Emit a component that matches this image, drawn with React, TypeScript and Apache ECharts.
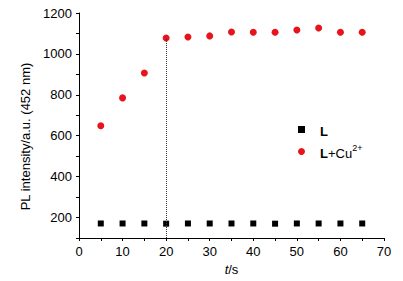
import React, { useEffect, useRef } from "react";
import * as echarts from "echarts";

const times = [5, 10, 15, 20, 25, 30, 35, 40, 45, 50, 55, 60, 65];
const seriesL = [171, 171, 171, 170, 171, 171, 171, 171, 170, 171, 171, 171, 171];
const seriesLCu = [649, 785, 907, 1078, 1083, 1088, 1107, 1106, 1106, 1117, 1127, 1106, 1106];
const legendNames = ["L", "L+Cu2+"];
const yLabels = [200, 400, 600, 800, 1000, 1200];
const yTickValues = [100, 200, 300, 400, 500, 600, 700, 800, 900, 1000, 1100, 1200];
const yRange = { min: 100, max: 1200, interval: 100 };
const xTicks = { min: 0, max: 70, interval: 10 };

export default function App() {
  const ref = useRef<HTMLDivElement>(null);
  useEffect(() => {
    if (!ref.current) return;
    const chart = echarts.init(ref.current, null, { renderer: "svg" });
    const font = "Liberation Sans, Arial, sans-serif";
    const markIdx = 3;
    chart.setOption({
      animation: false,
      backgroundColor: "#ffffff",
      textStyle: { fontFamily: font },
      grid: { left: 79, right: 19, top: 13, bottom: 43, containLabel: false },
      legend: {
        orient: "vertical",
        left: 293,
        top: 120,
        itemGap: 5,
        itemWidth: 7,
        itemHeight: 7,
        data: [
          { name: legendNames[0], icon: "rect", itemStyle: { color: "#000000", opacity: 1 } },
          { name: legendNames[1], icon: "circle", itemStyle: { color: "#e8141b", opacity: 1 } },
        ],
        formatter: (n: string) => (n === "L" ? "{b|L}" : "{b|L}{n|+Cu}{s|2+}"),
        textStyle: {
          padding: [0, 0, 0, 10],
          rich: {
            b: { fontFamily: font, fontWeight: "bold", fontSize: 13, color: "#000", verticalAlign: "bottom", lineHeight: 17 },
            n: { fontFamily: font, fontSize: 13, color: "#000", verticalAlign: "bottom", lineHeight: 17 },
            s: { fontFamily: font, fontSize: 9, color: "#000", verticalAlign: "top", lineHeight: 17, padding: [0, 0, 9, 0] },
          },
        },
      },
      xAxis: {
        type: "value",
        min: xTicks.min,
        max: xTicks.max,
        interval: xTicks.interval,
        name: "{i|t}/s",
        nameLocation: "middle",
        nameGap: 23,
        nameTextStyle: {
          fontFamily: font,
          fontSize: 13,
          color: "#000",
          rich: { i: { fontFamily: font, fontStyle: "italic", fontSize: 13, color: "#000" } },
        },
        axisLine: { show: true, onZero: false, lineStyle: { color: "#000", width: 1 } },
        axisTick: { show: true, length: 3, lineStyle: { color: "#000" } },
        minorTick: { show: true, splitNumber: 2, length: 3, lineStyle: { color: "#000" } },
        axisLabel: { fontFamily: font, fontSize: 13, color: "#000", margin: 7 },
        splitLine: { show: false },
      },
      yAxis: {
        type: "value",
        min: yRange.min,
        max: yRange.max,
        interval: yRange.interval,
        axisLabel: {
          fontFamily: font,
          fontSize: 13,
          color: "#000",
          margin: 7,
          customValues: yLabels,
          formatter: (v: number) => String(v),
        },
        axisTick: { show: true, length: 3, lineStyle: { color: "#000" }, customValues: yTickValues },
        minorTick: { show: false },
        name: "PL intensity/a.u. (452 nm)",
        nameLocation: "middle",
        nameGap: 42,
        nameTextStyle: { fontFamily: font, fontSize: 13, color: "#000", padding: [0, 22, 0, 0] },
        axisLine: { show: true, onZero: false, lineStyle: { color: "#000", width: 1 } },
        splitLine: { show: false },
      },
      series: [
        {
          name: legendNames[0],
          type: "scatter",
          symbol: "rect",
          symbolSize: 6,
          itemStyle: { color: "#000000", opacity: 1 },
          data: times.map((t, i) => [t, seriesL[i]]),
        },
        {
          name: legendNames[1],
          type: "scatter",
          symbol: "circle",
          symbolSize: 7,
          itemStyle: { color: "#e8141b", opacity: 1 },
          data: times.map((t, i) => [t, seriesLCu[i]]),
          markLine: {
            silent: true,
            symbol: "none",
            label: { show: false },
            lineStyle: { type: [1, 1], color: "#333", width: 1 },
            data: [[{ coord: [times[markIdx], yRange.min] }, { coord: [times[markIdx], seriesLCu[markIdx]] }]],
          },
        },
      ],
    });
    return () => chart.dispose();
  }, []);
  return <div ref={ref} style={{ width: 403, height: 281, position: "absolute", left: 0, top: 0 }} />;
}
